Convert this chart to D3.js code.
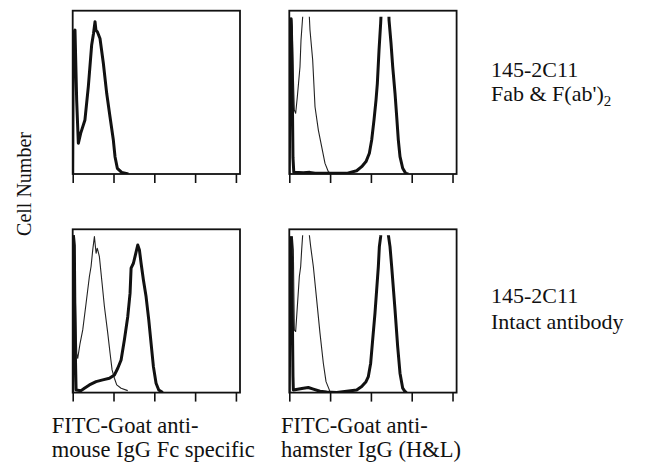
<!DOCTYPE html>
<html>
<head>
<meta charset="utf-8">
<script src="https://cdn.jsdelivr.net/npm/d3@7"></script>
<style>
  body { margin: 0; background: #fff; }
</style>
</head>
<body>
<svg id="chart" width="649" height="469"></svg>
<script>
// log10 fluorescence decades on the x axis (tick positions)
var decades = [0, 1, 2, 3, 4];

// histogram traces: [log10 fluorescence, relative cell number]
// top-left: Fab & F(ab')2, anti-mouse Fc
var p1Thick = [[0,0],[0.015,0.862],[0.056,0.882],[0.097,0.453],[0.138,0.188],[0.195,0.249],[0.30,0.331],
  [0.383,0.535],[0.465,0.79],[0.51,0.86],[0.547,0.933],[0.57,0.88],[0.604,0.871],[0.669,0.83],[0.751,0.678],
  [0.833,0.494],[0.914,0.351],[0.996,0.208],[1.037,0.106],[1.094,0.035],[1.2,0.01],[1.364,0]];
var p1Thin = [];

// top-right: Fab & F(ab')2, anti-hamster H&L
var p2Thin = [[0,0],[0.017,0.5],[0.058,0.943],[0.074,0.9],[0.099,0.6],[0.123,0.392],[0.156,0.372],[0.197,0.473],
  [0.262,0.657],[0.287,0.821],[0.328,0.963],[0.36,1.1],[0.45,1.1],[0.491,0.963],[0.507,0.882],[0.573,0.698],
  [0.630,0.412],[0.712,0.269],[0.793,0.167],[0.875,0.065],[0.957,0.014],[1.038,0]];
var p2Thick = [[0,0],[0.02,0.7],[0.045,0.95],[0.07,0.6],[0.09,0.1],[0.11,0.01],[0.344,0.008],[0.5,0.01],
  [0.63,0.004],[1.406,0.004],[1.651,0.02],[1.774,0.045],[1.88,0.076],[1.962,0.127],[2.019,0.208],[2.076,0.331],
  [2.125,0.453],[2.158,0.555],[2.199,0.759],[2.239,0.923],[2.272,1.1],[2.427,1.1],[2.444,0.943],[2.493,0.8],
  [2.534,0.657],[2.591,0.494],[2.632,0.351],[2.672,0.208],[2.713,0.106],[2.779,0.035],[2.852,0.004],[2.917,0]];

// bottom-left: intact antibody, anti-mouse Fc
var p3Thin = [[0,0],[0.017,0.955],[0.042,0.976],[0.066,0.568],[0.099,0.241],[0.123,0.21],[0.181,0.302],
  [0.246,0.384],[0.328,0.547],[0.409,0.711],[0.45,0.772],[0.491,0.874],[0.532,0.955],[0.573,0.853],[0.6,0.884],
  [0.613,0.874],[0.654,0.833],[0.72,0.67],[0.777,0.527],[0.859,0.364],[0.916,0.241],[0.965,0.139],[1.022,0.088],
  [1.079,0.047],[1.186,0.027],[1.349,0.012]];
var p3Thick = [[0,0],[0.015,0.97],[0.04,0.9],[0.06,0.3],[0.083,0.016],[0.205,0.012],[0.287,0.027],[0.409,0.047],
  [0.573,0.067],[0.736,0.078],[0.9,0.088],[1.022,0.108],[1.104,0.149],[1.186,0.2],[1.267,0.323],[1.349,0.465],
  [1.406,0.609],[1.431,0.762],[1.488,0.792],[1.537,0.843],[1.594,0.904],[1.635,0.874],[1.676,0.792],[1.733,0.69],
  [1.798,0.588],[1.864,0.445],[1.921,0.302],[1.978,0.159],[2.043,0.057],[2.109,0.016],[2.207,0]];

// bottom-right: intact antibody, anti-hamster H&L
var p4Thin = [[0,0],[0.017,0.5],[0.074,0.955],[0.099,0.874],[0.123,0.384],[0.156,0.374],[0.197,0.527],
  [0.246,0.711],[0.279,0.772],[0.303,0.874],[0.328,0.966],[0.36,1.1],[0.45,1.1],[0.491,0.966],[0.524,0.894],
  [0.589,0.772],[0.671,0.568],[0.752,0.364],[0.834,0.18],[0.9,0.067],[0.998,0.006],[1.079,0]];
var p4Thick = [[0,0],[0.02,0.7],[0.045,0.95],[0.07,0.6],[0.09,0.1],[0.099,0.016],[0.344,0.027],[0.466,0.031],
  [0.589,0.021],[0.752,0.008],[0.916,0.004],[1.161,0],[1.406,0.008],[1.651,0.016],[1.774,0.037],[1.88,0.067],
  [1.937,0.098],[1.994,0.18],[2.043,0.323],[2.1,0.486],[2.141,0.629],[2.182,0.772],[2.207,0.894],[2.239,0.955],
  [2.26,1.1],[2.41,1.1],[2.427,0.966],[2.468,0.894],[2.509,0.772],[2.591,0.506],[2.656,0.282],[2.713,0.119],
  [2.779,0.027],[2.836,0.006],[2.877,0]];

var rowLabels = [["145-2C11", "Fab & F(ab')", "2"], ["145-2C11", "Intact antibody", ""]];
var colLabels = [["FITC-Goat anti-", "mouse IgG Fc specific"], ["FITC-Goat anti-", "hamster IgG (H&L)"]];

var panels = [
  { col: 0, row: 0, thin: p1Thin, thick: p1Thick },
  { col: 1, row: 0, thin: p2Thin, thick: p2Thick },
  { col: 0, row: 1, thin: p3Thin, thick: p3Thick },
  { col: 1, row: 1, thin: p4Thin, thick: p4Thick }
];

var FONT = '"Liberation Serif", "Times New Roman", Times, serif';
var svg = d3.select('#chart');
var colX = [72.7, 289.3], rowY = [10.7, 229.3];
var pw = 167.3, ph = 163.3;

var x = d3.scaleLinear().domain([0, 4.1]).range([0, pw]);
var y = d3.scaleLinear().domain([0, 1]).range([ph, 0]);
var line = d3.line().x(function(d) { return x(d[0]); }).y(function(d) { return y(d[1]); });

// clip so peaks that run off scale stop a little below the frame top
svg.append('defs').append('clipPath').attr('id', 'plot-clip')
  .append('rect').attr('x', 0).attr('y', 6).attr('width', pw).attr('height', ph - 6);

panels.forEach(function(p) {
  var g = svg.append('g').attr('transform', 'translate(' + colX[p.col] + ',' + rowY[p.row] + ')');

  var ax = g.append('g').attr('transform', 'translate(0,' + ph + ')')
    .call(d3.axisBottom(x).tickValues(decades).tickSize(9).tickFormat(''));
  ax.select('.domain').remove();
  ax.selectAll('.tick line').attr('stroke', '#111').attr('stroke-width', 1.6);

  var plot = g.append('g').attr('clip-path', 'url(#plot-clip)');
  if (p.thin.length) {
    plot.append('path').datum(p.thin).attr('d', line)
      .attr('fill', 'none').attr('stroke', '#222').attr('stroke-width', 1.1).attr('stroke-linejoin', 'round');
  }
  plot.append('path').datum(p.thick).attr('d', line)
    .attr('fill', 'none').attr('stroke', '#111').attr('stroke-width', 3).attr('stroke-linejoin', 'round');

  g.append('rect').attr('width', pw).attr('height', ph)
    .attr('fill', 'none').attr('stroke', '#111').attr('stroke-width', 1.8);
});

// y axis title
svg.append('text')
  .attr('transform', 'translate(31,184) rotate(-90)')
  .attr('text-anchor', 'middle').attr('font-size', 20)
  .attr('font-family', FONT).attr('fill', '#111')
  .text('Cell Number');

// column titles under the panels
colLabels.forEach(function(lbl, i) {
  var t = svg.append('text').attr('x', [51.7, 281][i]).attr('y', 433)
    .attr('font-size', 22.5).attr('font-family', FONT).attr('fill', '#111');
  t.append('tspan').text(lbl[0]);
  t.append('tspan').attr('x', [51.7, 281][i]).attr('y', 456.5).text(lbl[1]);
});

// row titles at the right
rowLabels.forEach(function(lbl, i) {
  var base = [76.5, 303][i], gap = [24.5, 26][i];
  svg.append('text').attr('x', 491).attr('y', base).attr('font-size', 22)
    .attr('font-family', FONT).attr('fill', '#111').text(lbl[0]);
  var t = svg.append('text').attr('x', 491).attr('y', base + gap).attr('font-size', 22)
    .attr('font-family', FONT).attr('fill', '#111').text(lbl[1]);
  if (lbl[2]) t.append('tspan').attr('dy', 5).attr('font-size', 15).text(lbl[2]);
});
</script>
</body>
</html>
